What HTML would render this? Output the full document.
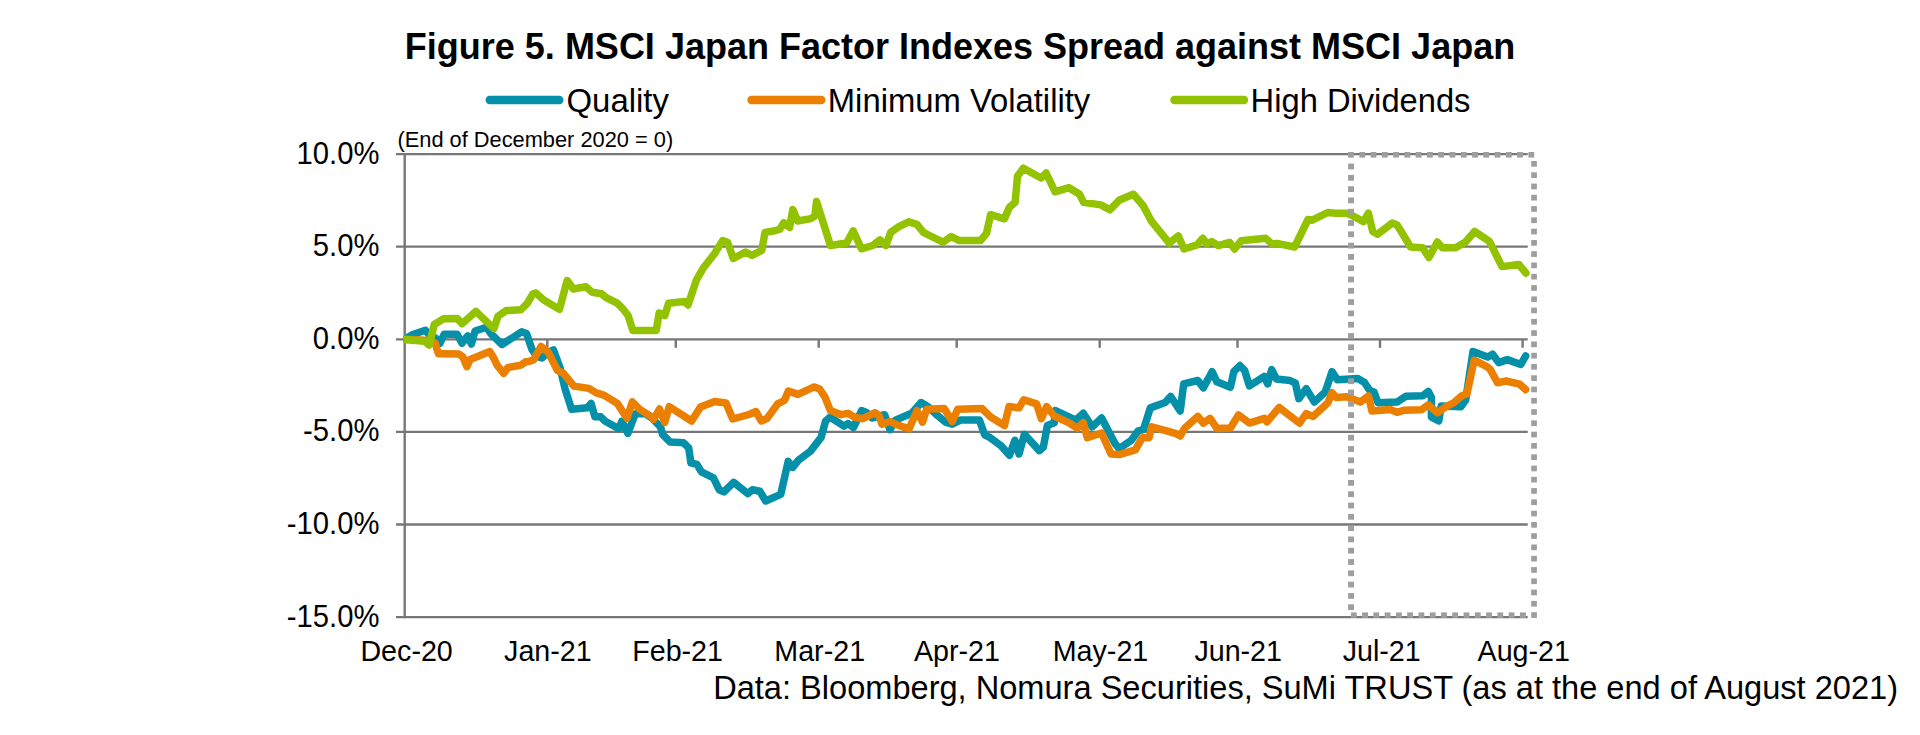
<!DOCTYPE html>
<html><head><meta charset="utf-8"><style>
html,body{margin:0;padding:0;background:#fff;width:1920px;height:735px;overflow:hidden}
svg{display:block}
#wrap{width:1920px;height:735px}
text{font-family:"Liberation Sans", sans-serif;fill:#000}
</style></head><body>
<div id="wrap"><svg width="1920" height="735" viewBox="0 0 1920 735">
<line x1="396" y1="154.1" x2="1527.7" y2="154.1" stroke="#777777" stroke-width="2.3"/>
<line x1="396" y1="246.7" x2="1527.7" y2="246.7" stroke="#777777" stroke-width="2.3"/>
<line x1="396" y1="339.3" x2="1527.7" y2="339.3" stroke="#777777" stroke-width="2.3"/>
<line x1="396" y1="431.9" x2="1527.7" y2="431.9" stroke="#777777" stroke-width="2.3"/>
<line x1="396" y1="524.5" x2="1527.7" y2="524.5" stroke="#777777" stroke-width="2.3"/>
<line x1="396" y1="617.1" x2="1527.7" y2="617.1" stroke="#777777" stroke-width="2.3"/>
<line x1="404.7" y1="153.0" x2="404.7" y2="618.2" stroke="#777777" stroke-width="2.4"/>
<line x1="547.3" y1="339.3" x2="547.3" y2="347.8" stroke="#777777" stroke-width="2.4"/>
<line x1="675.8" y1="339.3" x2="675.8" y2="347.8" stroke="#777777" stroke-width="2.4"/>
<line x1="818.7" y1="339.3" x2="818.7" y2="347.8" stroke="#777777" stroke-width="2.4"/>
<line x1="956.7" y1="339.3" x2="956.7" y2="347.8" stroke="#777777" stroke-width="2.4"/>
<line x1="1099.7" y1="339.3" x2="1099.7" y2="347.8" stroke="#777777" stroke-width="2.4"/>
<line x1="1237.5" y1="339.3" x2="1237.5" y2="347.8" stroke="#777777" stroke-width="2.4"/>
<line x1="1380" y1="339.3" x2="1380" y2="347.8" stroke="#777777" stroke-width="2.4"/>
<line x1="1522.6" y1="339.3" x2="1522.6" y2="347.8" stroke="#777777" stroke-width="2.4"/>
<defs><clipPath id="pc"><rect x="403.6" y="0" width="1200" height="735"/></clipPath></defs>
<g clip-path="url(#pc)">
<polyline points="404.7,339.3 412.2,334.8 425.3,330.2 429.4,334.8 435.9,338.4 440.0,343.3 444.1,334.3 457.1,334.3 462.0,343.3 467.8,335.9 471.4,344.1 475.1,331.0 486.5,327.3 491.4,334.3 502.0,344.5 521.6,331.8 526.5,333.5 532.0,349.5 537.0,356.5 542.0,358.0 547.0,353.0 553.5,350.0 560.4,368.9 564.9,388.4 571.6,409.3 587.4,407.8 591.1,403.4 594.9,416.8 600.8,416.8 605.3,421.3 618.8,428.8 621.8,421.3 627.8,433.3 635.3,413.8 645.0,413.5 652.0,418.0 660.7,427.3 662.5,434.4 669.9,441.9 683.4,442.7 688.7,447.9 690.9,462.9 696.9,464.4 701.4,471.9 713.4,477.8 719.3,489.8 723.8,492.0 733.6,482.3 747.8,493.6 752.3,489.8 759.8,491.3 765.7,501.0 780.7,494.3 788.2,461.4 792.7,467.4 798.7,459.9 810.7,450.9 821.1,437.4 825.6,421.0 830.1,417.2 844.0,426.2 848.0,423.5 853.4,427.5 861.6,410.6 867.0,412.7 872.0,418.0 884.6,414.7 890.0,429.6 895.4,420.1 911.7,413.3 921.1,402.5 927.9,406.6 937.4,415.4 945.5,422.1 952.3,424.2 960.4,420.1 979.4,420.1 984.8,435.0 990.2,437.7 1001.0,445.8 1009.5,455.3 1014.9,440.4 1019.0,454.0 1024.4,434.3 1039.3,450.6 1043.3,447.2 1047.4,425.5 1054.2,422.8 1055.5,410.6 1075.8,420.1 1083.3,413.3 1092.1,426.9 1101.6,418.1 1115.1,443.8 1119.2,448.5 1131.3,440.4 1138.1,430.9 1143.5,429.6 1150.3,407.9 1165.2,402.5 1170.6,396.4 1180.2,411.0 1183.7,383.9 1197.9,380.5 1203.3,387.9 1212.1,371.7 1216.9,381.8 1230.4,387.2 1233.8,371.7 1239.9,365.6 1244.6,370.3 1249.4,385.9 1264.3,376.4 1267.7,383.9 1271.7,369.6 1276.5,379.1 1290.0,380.5 1295.4,383.2 1298.8,398.7 1306.2,388.6 1314.4,402.1 1325.2,392.0 1332.0,371.7 1337.4,379.8 1357.7,378.4 1364.5,382.5 1369.9,390.6 1374.0,392.0 1378.0,402.8 1397.0,402.1 1405.7,396.3 1422.8,395.7 1428.3,391.4 1431.4,397.5 1431.4,417.1 1438.8,420.8 1441.2,406.1 1460.8,406.7 1465.7,400.0 1473.0,351.6 1487.7,357.1 1492.6,354.1 1498.7,362.6 1507.3,359.6 1520.8,364.5 1525.7,355.9" fill="none" stroke="#0590aa" stroke-width="7.5" stroke-linejoin="round" stroke-linecap="round"/>
<polyline points="404.7,339.3 430.0,340.5 435.1,343.1 438.4,353.7 443.3,353.7 458.8,354.1 462.9,356.9 466.9,366.7 470.2,359.4 489.8,351.6 493.1,356.9 497.1,365.1 503.7,373.3 507.8,367.6 520.8,365.1 525.7,361.8 529.0,361.4 533.5,360.0 541.0,346.5 548.4,352.5 557.4,370.4 563.4,373.4 573.9,386.1 588.9,388.4 596.3,392.9 603.8,395.1 617.3,403.4 627.0,418.3 632.3,401.9 639.8,409.3 651.7,416.8 653.5,419.5 659.5,409.0 664.7,422.5 669.2,406.7 691.6,421.0 700.5,407.0 714.6,401.5 726.0,403.0 732.7,419.0 749.0,414.5 756.0,411.5 761.2,421.0 767.0,418.5 777.6,403.9 784.4,400.5 788.4,391.0 797.9,394.4 814.2,386.9 819.6,389.0 825.0,397.1 830.4,410.6 841.2,414.7 848.0,413.3 854.8,417.4 862.9,418.7 875.1,412.7 879.2,416.0 881.9,424.2 890.0,421.5 895.4,424.2 909.0,428.9 917.1,410.6 922.5,422.1 926.6,409.3 944.2,408.6 952.3,421.5 957.7,409.3 982.1,408.6 990.2,416.7 1004.5,425.5 1009.0,406.5 1019.0,407.9 1023.7,399.8 1036.6,403.9 1041.3,418.7 1046.7,406.6 1054.2,416.0 1069.1,422.8 1077.2,428.2 1083.3,422.8 1087.3,437.7 1101.6,433.0 1111.0,454.0 1119.2,454.6 1135.4,449.9 1142.2,437.7 1149.0,437.7 1151.7,426.9 1166.6,430.9 1176.0,433.6 1180.3,436.0 1184.4,428.5 1197.9,416.4 1203.3,423.1 1210.1,418.4 1216.9,428.5 1230.4,427.9 1238.5,415.0 1249.4,423.1 1264.3,418.4 1267.0,421.8 1279.2,407.5 1299.5,423.1 1306.2,413.6 1313.0,416.4 1327.9,402.8 1332.0,392.7 1336.0,397.4 1346.9,396.7 1360.4,402.1 1368.5,396.0 1371.9,410.9 1390.2,409.6 1397.0,412.3 1403.7,410.3 1421.6,409.8 1428.3,404.9 1437.5,412.8 1446.1,406.7 1453.4,403.0 1462.0,395.7 1466.9,393.9 1474.2,360.2 1486.5,366.3 1490.2,369.4 1497.5,382.8 1506.1,381.0 1519.5,384.1 1525.7,389.6" fill="none" stroke="#eb7f00" stroke-width="7.5" stroke-linejoin="round" stroke-linecap="round"/>
<polyline points="404.2,339.5 424.5,341.2 429.2,345.0 434.3,324.5 443.3,318.8 457.1,318.4 462.0,323.7 475.9,311.4 493.9,328.6 498.0,316.3 506.1,310.6 520.8,309.8 527.3,303.3 532.8,293.8 535.9,293.0 543.8,300.0 559.4,309.4 567.2,280.5 573.4,289.0 585.9,286.7 592.2,292.2 601.6,293.8 606.2,297.7 617.2,303.1 623.4,309.4 628.1,315.6 632.8,330.4 656.2,330.4 659.2,313.0 664.8,315.5 668.6,303.3 684.8,301.4 688.0,305.0 696.5,279.8 703.1,268.3 714.5,253.7 722.6,240.6 727.5,242.2 733.3,258.5 745.5,252.0 752.0,255.3 761.8,250.4 765.0,232.4 774.9,230.8 779.8,229.2 783.8,222.6 789.6,227.5 792.8,209.6 797.7,221.0 810.8,218.6 814.9,216.1 816.5,201.4 830.4,245.5 846.7,243.0 853.2,230.8 861.4,248.8 872.8,245.5 880.1,239.8 885.9,245.5 890.7,232.4 898.9,226.7 908.7,221.8 916.9,224.3 923.4,232.4 931.5,236.5 943.0,242.2 951.1,236.5 959.3,240.6 980.5,240.6 986.5,233.4 990.6,214.7 1004.5,218.8 1009.4,207.3 1015.1,202.4 1017.5,176.3 1023.3,168.2 1041.2,178.0 1046.1,173.0 1055.1,191.8 1069.0,187.7 1079.6,194.3 1083.6,202.4 1100.8,204.9 1109.8,209.8 1119.5,200.0 1133.4,194.3 1143.2,205.7 1151.4,221.2 1169.3,243.2 1178.3,235.9 1184.0,249.0 1197.1,244.9 1202.8,238.3 1206.9,244.0 1211.8,241.6 1218.3,245.7 1229.7,242.4 1234.6,249.0 1241.1,240.8 1265.6,238.3 1272.1,244.0 1277.0,243.4 1294.6,247.0 1308.0,219.5 1312.2,220.2 1327.7,212.5 1336.1,213.2 1346.6,213.2 1354.4,216.7 1363.5,221.6 1368.4,213.2 1372.7,231.5 1377.6,234.3 1392.3,223.0 1397.3,225.2 1410.6,247.0 1422.6,247.7 1428.9,257.5 1437.3,242.0 1442.3,247.7 1455.6,247.7 1465.5,242.0 1474.6,231.5 1489.4,241.3 1502.0,266.6 1518.9,264.5 1525.9,273.0" fill="none" stroke="#92c200" stroke-width="7.5" stroke-linejoin="round" stroke-linecap="round"/>
</g>
<g fill="#9e9e9e"><rect x="1348.1" y="152.0" width="5.8" height="5.6"/><rect x="1359.4" y="152.0" width="5.8" height="5.6"/><rect x="1370.6" y="152.0" width="5.8" height="5.6"/><rect x="1381.9" y="152.0" width="5.8" height="5.6"/><rect x="1393.2" y="152.0" width="5.8" height="5.6"/><rect x="1404.4" y="152.0" width="5.8" height="5.6"/><rect x="1415.7" y="152.0" width="5.8" height="5.6"/><rect x="1427.0" y="152.0" width="5.8" height="5.6"/><rect x="1438.3" y="152.0" width="5.8" height="5.6"/><rect x="1449.5" y="152.0" width="5.8" height="5.6"/><rect x="1460.8" y="152.0" width="5.8" height="5.6"/><rect x="1472.1" y="152.0" width="5.8" height="5.6"/><rect x="1483.3" y="152.0" width="5.8" height="5.6"/><rect x="1494.6" y="152.0" width="5.8" height="5.6"/><rect x="1505.9" y="152.0" width="5.8" height="5.6"/><rect x="1517.1" y="152.0" width="5.8" height="5.6"/><rect x="1528.4" y="152.0" width="5.8" height="5.6"/><rect x="1531.2" y="161.0" width="5.7" height="5.7"/><rect x="1531.2" y="172.3" width="5.7" height="5.7"/><rect x="1531.2" y="183.6" width="5.7" height="5.7"/><rect x="1531.2" y="194.8" width="5.7" height="5.7"/><rect x="1531.2" y="206.1" width="5.7" height="5.7"/><rect x="1531.2" y="217.4" width="5.7" height="5.7"/><rect x="1531.2" y="228.7" width="5.7" height="5.7"/><rect x="1531.2" y="240.0" width="5.7" height="5.7"/><rect x="1531.2" y="251.2" width="5.7" height="5.7"/><rect x="1531.2" y="262.5" width="5.7" height="5.7"/><rect x="1531.2" y="273.8" width="5.7" height="5.7"/><rect x="1531.2" y="285.1" width="5.7" height="5.7"/><rect x="1531.2" y="296.4" width="5.7" height="5.7"/><rect x="1531.2" y="307.6" width="5.7" height="5.7"/><rect x="1531.2" y="318.9" width="5.7" height="5.7"/><rect x="1531.2" y="330.2" width="5.7" height="5.7"/><rect x="1531.2" y="341.5" width="5.7" height="5.7"/><rect x="1531.2" y="352.8" width="5.7" height="5.7"/><rect x="1531.2" y="364.0" width="5.7" height="5.7"/><rect x="1531.2" y="375.3" width="5.7" height="5.7"/><rect x="1531.2" y="386.6" width="5.7" height="5.7"/><rect x="1531.2" y="397.9" width="5.7" height="5.7"/><rect x="1531.2" y="409.2" width="5.7" height="5.7"/><rect x="1531.2" y="420.4" width="5.7" height="5.7"/><rect x="1531.2" y="431.7" width="5.7" height="5.7"/><rect x="1531.2" y="443.0" width="5.7" height="5.7"/><rect x="1531.2" y="454.3" width="5.7" height="5.7"/><rect x="1531.2" y="465.6" width="5.7" height="5.7"/><rect x="1531.2" y="476.8" width="5.7" height="5.7"/><rect x="1531.2" y="488.1" width="5.7" height="5.7"/><rect x="1531.2" y="499.4" width="5.7" height="5.7"/><rect x="1531.2" y="510.7" width="5.7" height="5.7"/><rect x="1531.2" y="522.0" width="5.7" height="5.7"/><rect x="1531.2" y="533.2" width="5.7" height="5.7"/><rect x="1531.2" y="544.5" width="5.7" height="5.7"/><rect x="1531.2" y="555.8" width="5.7" height="5.7"/><rect x="1531.2" y="567.1" width="5.7" height="5.7"/><rect x="1531.2" y="578.4" width="5.7" height="5.7"/><rect x="1531.2" y="589.6" width="5.7" height="5.7"/><rect x="1531.2" y="600.9" width="5.7" height="5.7"/><rect x="1531.2" y="612.2" width="5.7" height="5.7"/><rect x="1350.9" y="612.4" width="5.8" height="5.4"/><rect x="1362.2" y="612.4" width="5.8" height="5.4"/><rect x="1373.4" y="612.4" width="5.8" height="5.4"/><rect x="1384.7" y="612.4" width="5.8" height="5.4"/><rect x="1396.0" y="612.4" width="5.8" height="5.4"/><rect x="1407.2" y="612.4" width="5.8" height="5.4"/><rect x="1418.5" y="612.4" width="5.8" height="5.4"/><rect x="1429.8" y="612.4" width="5.8" height="5.4"/><rect x="1441.1" y="612.4" width="5.8" height="5.4"/><rect x="1452.3" y="612.4" width="5.8" height="5.4"/><rect x="1463.6" y="612.4" width="5.8" height="5.4"/><rect x="1474.9" y="612.4" width="5.8" height="5.4"/><rect x="1486.1" y="612.4" width="5.8" height="5.4"/><rect x="1497.4" y="612.4" width="5.8" height="5.4"/><rect x="1508.7" y="612.4" width="5.8" height="5.4"/><rect x="1520.0" y="612.4" width="5.8" height="5.4"/><rect x="1348.1" y="163.6" width="5.9" height="5.8"/><rect x="1348.1" y="174.9" width="5.9" height="5.8"/><rect x="1348.1" y="186.2" width="5.9" height="5.8"/><rect x="1348.1" y="197.5" width="5.9" height="5.8"/><rect x="1348.1" y="208.8" width="5.9" height="5.8"/><rect x="1348.1" y="220.1" width="5.9" height="5.8"/><rect x="1348.1" y="231.4" width="5.9" height="5.8"/><rect x="1348.1" y="242.7" width="5.9" height="5.8"/><rect x="1348.1" y="254.0" width="5.9" height="5.8"/><rect x="1348.1" y="265.3" width="5.9" height="5.8"/><rect x="1348.1" y="276.6" width="5.9" height="5.8"/><rect x="1348.1" y="287.9" width="5.9" height="5.8"/><rect x="1348.1" y="299.2" width="5.9" height="5.8"/><rect x="1348.1" y="310.5" width="5.9" height="5.8"/><rect x="1348.1" y="321.8" width="5.9" height="5.8"/><rect x="1348.1" y="333.1" width="5.9" height="5.8"/><rect x="1348.1" y="344.4" width="5.9" height="5.8"/><rect x="1348.1" y="355.7" width="5.9" height="5.8"/><rect x="1348.1" y="367.0" width="5.9" height="5.8"/><rect x="1348.1" y="378.3" width="5.9" height="5.8"/><rect x="1348.1" y="389.6" width="5.9" height="5.8"/><rect x="1348.1" y="400.9" width="5.9" height="5.8"/><rect x="1348.1" y="412.2" width="5.9" height="5.8"/><rect x="1348.1" y="423.5" width="5.9" height="5.8"/><rect x="1348.1" y="434.8" width="5.9" height="5.8"/><rect x="1348.1" y="446.1" width="5.9" height="5.8"/><rect x="1348.1" y="457.4" width="5.9" height="5.8"/><rect x="1348.1" y="468.7" width="5.9" height="5.8"/><rect x="1348.1" y="480.0" width="5.9" height="5.8"/><rect x="1348.1" y="491.3" width="5.9" height="5.8"/><rect x="1348.1" y="502.6" width="5.9" height="5.8"/><rect x="1348.1" y="513.9" width="5.9" height="5.8"/><rect x="1348.1" y="525.2" width="5.9" height="5.8"/><rect x="1348.1" y="536.5" width="5.9" height="5.8"/><rect x="1348.1" y="547.8" width="5.9" height="5.8"/><rect x="1348.1" y="559.1" width="5.9" height="5.8"/><rect x="1348.1" y="570.4" width="5.9" height="5.8"/><rect x="1348.1" y="581.7" width="5.9" height="5.8"/><rect x="1348.1" y="593.0" width="5.9" height="5.8"/><rect x="1348.1" y="604.3" width="5.9" height="5.8"/></g>
<line x1="489.7" y1="100" x2="559.3" y2="100" stroke="#0590aa" stroke-width="8.4" stroke-linecap="round"/>
<line x1="751.5" y1="100" x2="821.3" y2="100" stroke="#eb7f00" stroke-width="8.4" stroke-linecap="round"/>
<line x1="1174.4" y1="100" x2="1244" y2="100" stroke="#92c200" stroke-width="8.4" stroke-linecap="round"/>
<text x="960" y="58.8" font-size="36" font-weight="bold" text-anchor="middle" id="title">Figure 5. MSCI Japan Factor Indexes Spread against MSCI Japan</text>
<text x="566.5" y="112" font-size="32.9" id="lq">Quality</text>
<text x="827.8" y="111.6" font-size="32.8" id="lm">Minimum Volatility</text>
<text x="1250.6" y="111.8" font-size="32.7" id="lh">High Dividends</text>
<text x="397.5" y="147.4" font-size="21.8" id="note">(End of December 2020 = 0)</text>
<text transform="translate(379.4,163.5) scale(0.955,1)" font-size="30.6" text-anchor="end">10.0%</text>
<text transform="translate(379.4,256.1) scale(0.955,1)" font-size="30.6" text-anchor="end">5.0%</text>
<text transform="translate(379.4,348.7) scale(0.955,1)" font-size="30.6" text-anchor="end">0.0%</text>
<text transform="translate(379.4,441.3) scale(0.955,1)" font-size="30.6" text-anchor="end">-5.0%</text>
<text transform="translate(379.4,533.9) scale(0.955,1)" font-size="30.6" text-anchor="end">-10.0%</text>
<text transform="translate(379.4,626.5) scale(0.955,1)" font-size="30.6" text-anchor="end">-15.0%</text>
<text transform="translate(406.6,661) scale(0.955,1)" font-size="30" text-anchor="middle">Dec-20</text>
<text transform="translate(547.9,661) scale(0.955,1)" font-size="30" text-anchor="middle">Jan-21</text>
<text transform="translate(677.6,661) scale(0.955,1)" font-size="30" text-anchor="middle">Feb-21</text>
<text transform="translate(819.7,661) scale(0.955,1)" font-size="30" text-anchor="middle">Mar-21</text>
<text transform="translate(957,661) scale(0.955,1)" font-size="30" text-anchor="middle">Apr-21</text>
<text transform="translate(1100.5,661) scale(0.955,1)" font-size="30" text-anchor="middle">May-21</text>
<text transform="translate(1238.2,661) scale(0.955,1)" font-size="30" text-anchor="middle">Jun-21</text>
<text transform="translate(1381.7,661) scale(0.955,1)" font-size="30" text-anchor="middle">Jul-21</text>
<text transform="translate(1523.7,661) scale(0.955,1)" font-size="30" text-anchor="middle">Aug-21</text>
<text x="1898" y="698.7" font-size="32.6" text-anchor="end" id="src">Data: Bloomberg, Nomura Securities, SuMi TRUST (as at the end of August 2021)</text>
</svg></div>
</body></html>
